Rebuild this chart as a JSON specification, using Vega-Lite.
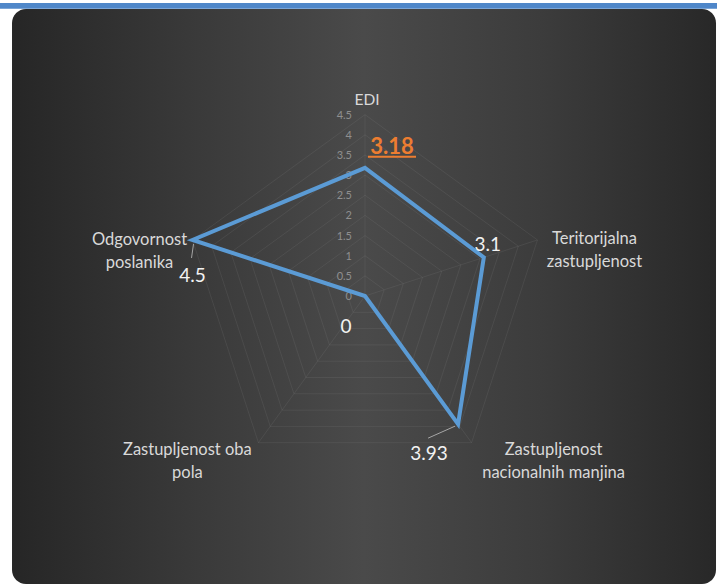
{
  "$schema": "https://vega.github.io/schema/vega-lite/v6.json",
  "width": 717,
  "height": 587,
  "autosize": {"type": "none"},
  "padding": 0,
  "background": "#ffffff",
  "config": {"view": {"stroke": null}, "text": {"font": "Lato"}},
  "datasets": {
    "radar": [
      {"k": 0, "name": "EDI", "value": 3.18},
      {"k": 1, "name": "Teritorijalna\nzastupljenost", "value": 3.1},
      {"k": 2, "name": "Zastupljenost\nnacionalnih manjina", "value": 3.93},
      {"k": 3, "name": "Zastupljenost oba\npola", "value": 0},
      {"k": 4, "name": "Odgovornost\nposlanika", "value": 4.5}
    ],
    "grid": [
      {"level": 0.5, "k": [0, 1, 2, 3, 4]},
      {"level": 1, "k": [0, 1, 2, 3, 4]},
      {"level": 1.5, "k": [0, 1, 2, 3, 4]},
      {"level": 2, "k": [0, 1, 2, 3, 4]},
      {"level": 2.5, "k": [0, 1, 2, 3, 4]},
      {"level": 3, "k": [0, 1, 2, 3, 4]},
      {"level": 3.5, "k": [0, 1, 2, 3, 4]},
      {"level": 4, "k": [0, 1, 2, 3, 4]},
      {"level": 4.5, "k": [0, 1, 2, 3, 4]}
    ],
    "tickvals": [
      {"t": 0}, {"t": 0.5}, {"t": 1}, {"t": 1.5}, {"t": 2},
      {"t": 2.5}, {"t": 3}, {"t": 3.5}, {"t": 4}, {"t": 4.5}
    ],
    "frame": [{"id": 1}]
  },
  "layer": [
    {
      "data": {"name": "frame"},
      "mark": {
        "type": "rect",
        "cornerRadius": 14,
        "fill": {
          "gradient": "linear", "x1": 0, "y1": 0.5, "x2": 1, "y2": 0.5,
          "stops": [
            {"offset": 0, "color": "#262626"},
            {"offset": 0.25, "color": "#393939"},
            {"offset": 0.5, "color": "#4a4a4a"},
            {"offset": 0.75, "color": "#3c3c3c"},
            {"offset": 1, "color": "#282828"}
          ]
        }
      },
      "encoding": {
        "x": {"datum": -8.759, "type": "quantitative", "scale": {"domain": [-9.0571, 8.7345], "nice": false, "zero": false}, "axis": null},
        "x2": {"datum": 8.71},
        "y": {"datum": 7.122, "type": "quantitative", "scale": {"domain": [-7.2208, 7.3449], "nice": false, "zero": false}, "axis": null},
        "y2": {"datum": -7.146}
      }
    },
    {
      "data": {"name": "frame"},
      "mark": {"type": "rect", "fill": "#4F87C9"},
      "encoding": {
        "x": {"datum": -9.3, "type": "quantitative", "scale": {"domain": [-9.0571, 8.7345], "nice": false, "zero": false}, "axis": null},
        "x2": {"datum": 9.0},
        "y": {"datum": 7.27, "type": "quantitative", "scale": {"domain": [-7.2208, 7.3449], "nice": false, "zero": false}, "axis": null},
        "y2": {"datum": 7.13}
      }
    },
    {
      "data": {"name": "grid"},
      "transform": [
        {"flatten": ["k"]},
        {"calculate": "datum.k * 2 * PI / 5", "as": "a"},
        {"calculate": "datum.level * sin(datum.a)", "as": "px"},
        {"calculate": "datum.level * cos(datum.a)", "as": "py"}
      ],
      "mark": {"type": "line", "interpolate": "linear-closed", "stroke": "#8a8a8a", "strokeOpacity": 0.17, "strokeWidth": 1},
      "encoding": {
        "x": {"field": "px", "type": "quantitative", "scale": {"domain": [-9.0571, 8.7345], "nice": false, "zero": false}, "axis": null},
        "y": {"field": "py", "type": "quantitative", "scale": {"domain": [-7.2208, 7.3449], "nice": false, "zero": false}, "axis": null},
        "detail": {"field": "level", "type": "nominal"},
        "order": {"field": "k", "type": "quantitative"}
      }
    },
    {
      "data": {"name": "tickvals"},
      "mark": {"type": "text", "align": "right", "baseline": "middle", "dx": -13, "dy": 1, "fontSize": 11, "color": "#8f8f8f"},
      "encoding": {
        "x": {"datum": 0, "type": "quantitative", "scale": {"domain": [-9.0571, 8.7345], "nice": false, "zero": false}, "axis": null},
        "y": {"field": "t", "type": "quantitative", "scale": {"domain": [-7.2208, 7.3449], "nice": false, "zero": false}, "axis": null},
        "text": {"field": "t", "type": "nominal"}
      }
    },
    {
      "data": {"name": "radar"},
      "transform": [
        {"calculate": "datum.k * 2 * PI / 5", "as": "a"},
        {"calculate": "datum.value * sin(datum.a)", "as": "px"},
        {"calculate": "datum.value * cos(datum.a)", "as": "py"},
        {"calculate": "4.5 * sin(datum.a)", "as": "ex"},
        {"calculate": "4.5 * cos(datum.a)", "as": "ey"}
      ],
      "encoding": {
        "x": {"field": "px", "type": "quantitative", "scale": {"domain": [-9.0571, 8.7345], "nice": false, "zero": false}, "axis": null},
        "y": {"field": "py", "type": "quantitative", "scale": {"domain": [-7.2208, 7.3449], "nice": false, "zero": false}, "axis": null}
      },
      "layer": [
        {
          "mark": {"type": "rule", "stroke": "#8a8a8a", "strokeOpacity": 0.17, "strokeWidth": 1},
          "encoding": {
            "x": {"datum": 0, "type": "quantitative", "scale": {"domain": [-9.0571, 8.7345], "nice": false, "zero": false}, "axis": null},
            "y": {"datum": 0, "type": "quantitative", "scale": {"domain": [-7.2208, 7.3449], "nice": false, "zero": false}, "axis": null},
            "x2": {"field": "ex"},
            "y2": {"field": "ey"}
          }
        },
        {
          "mark": {"type": "line", "interpolate": "linear-closed", "stroke": "#5B9BD5", "strokeWidth": 4, "strokeJoin": "miter"},
          "encoding": {"order": {"field": "k", "type": "quantitative"}}
        },
        {
          "transform": [{"filter": "datum.k == 2"}],
          "mark": {"type": "rule", "stroke": "#a6a6a6", "strokeWidth": 1, "xOffset": -3, "yOffset": 2, "x2Offset": -30, "y2Offset": 14},
          "encoding": {"x2": {"field": "px"}, "y2": {"field": "py"}}
        },
        {
          "transform": [{"filter": "datum.k == 4"}],
          "mark": {"type": "rule", "stroke": "#a6a6a6", "strokeWidth": 1, "xOffset": 1, "yOffset": 4, "x2Offset": -1, "y2Offset": 18},
          "encoding": {"x2": {"field": "px"}, "y2": {"field": "py"}}
        },
        {
          "transform": [{"filter": "datum.k == 0"}],
          "mark": {"type": "text", "align": "center", "baseline": "middle", "dx": 27, "dy": -21, "fontSize": 22, "fontWeight": "bold", "color": "#ED7D31"},
          "encoding": {"text": {"field": "value", "type": "nominal"}}
        },
        {
          "transform": [{"filter": "datum.k == 0"}],
          "mark": {"type": "rule", "stroke": "#ED7D31", "strokeWidth": 2, "xOffset": 3, "yOffset": -11, "x2Offset": 51, "y2Offset": -11},
          "encoding": {"x2": {"field": "px"}, "y2": {"field": "py"}}
        },
        {
          "transform": [{"filter": "datum.k == 1"}],
          "mark": {"type": "text", "align": "center", "baseline": "middle", "dx": 4, "dy": -12, "fontSize": 19, "color": "#f2f2f2"},
          "encoding": {"text": {"field": "value", "type": "nominal"}}
        },
        {
          "transform": [{"filter": "datum.k == 2"}],
          "mark": {"type": "text", "align": "center", "baseline": "middle", "dx": -29, "dy": 30, "fontSize": 19, "color": "#f2f2f2"},
          "encoding": {"text": {"field": "value", "type": "nominal"}}
        },
        {
          "transform": [{"filter": "datum.k == 3"}],
          "mark": {"type": "text", "align": "center", "baseline": "middle", "dx": -19, "dy": 31, "fontSize": 19, "color": "#f2f2f2"},
          "encoding": {"text": {"field": "value", "type": "nominal"}}
        },
        {
          "transform": [{"filter": "datum.k == 4"}],
          "mark": {"type": "text", "align": "center", "baseline": "middle", "dx": 0, "dy": 36, "fontSize": 19, "color": "#f2f2f2"},
          "encoding": {"text": {"field": "value", "type": "nominal"}}
        },
        {
          "transform": [{"filter": "datum.k == 0"}],
          "mark": {"type": "text", "align": "center", "baseline": "middle", "dx": 2, "dy": -15, "fontSize": 15.5, "color": "#d9d9d9", "lineBreak": "\n", "lineHeight": 23},
          "encoding": {
            "x": {"field": "ex", "type": "quantitative", "scale": {"domain": [-9.0571, 8.7345], "nice": false, "zero": false}, "axis": null},
            "y": {"field": "ey", "type": "quantitative", "scale": {"domain": [-7.2208, 7.3449], "nice": false, "zero": false}, "axis": null},
            "text": {"field": "name", "type": "nominal"}
          }
        },
        {
          "transform": [{"filter": "datum.k == 1"}],
          "mark": {"type": "text", "align": "center", "baseline": "middle", "dx": 57, "dy": -1, "fontSize": 16.5, "color": "#d9d9d9", "lineBreak": "\n", "lineHeight": 23},
          "encoding": {
            "x": {"field": "ex", "type": "quantitative", "scale": {"domain": [-9.0571, 8.7345], "nice": false, "zero": false}, "axis": null},
            "y": {"field": "ey", "type": "quantitative", "scale": {"domain": [-7.2208, 7.3449], "nice": false, "zero": false}, "axis": null},
            "text": {"field": "name", "type": "nominal"}
          }
        },
        {
          "transform": [{"filter": "datum.k == 2"}],
          "mark": {"type": "text", "align": "center", "baseline": "middle", "dx": 82, "dy": 7, "fontSize": 16.5, "color": "#d9d9d9", "lineBreak": "\n", "lineHeight": 23},
          "encoding": {
            "x": {"field": "ex", "type": "quantitative", "scale": {"domain": [-9.0571, 8.7345], "nice": false, "zero": false}, "axis": null},
            "y": {"field": "ey", "type": "quantitative", "scale": {"domain": [-7.2208, 7.3449], "nice": false, "zero": false}, "axis": null},
            "text": {"field": "name", "type": "nominal"}
          }
        },
        {
          "transform": [{"filter": "datum.k == 3"}],
          "mark": {"type": "text", "align": "center", "baseline": "middle", "dx": -71, "dy": 7, "fontSize": 16.5, "color": "#d9d9d9", "lineBreak": "\n", "lineHeight": 23},
          "encoding": {
            "x": {"field": "ex", "type": "quantitative", "scale": {"domain": [-9.0571, 8.7345], "nice": false, "zero": false}, "axis": null},
            "y": {"field": "ey", "type": "quantitative", "scale": {"domain": [-7.2208, 7.3449], "nice": false, "zero": false}, "axis": null},
            "text": {"field": "name", "type": "nominal"}
          }
        },
        {
          "transform": [{"filter": "datum.k == 4"}],
          "mark": {"type": "text", "align": "center", "baseline": "middle", "dx": -53, "dy": 0, "fontSize": 16.5, "color": "#d9d9d9", "lineBreak": "\n", "lineHeight": 23},
          "encoding": {
            "x": {"field": "ex", "type": "quantitative", "scale": {"domain": [-9.0571, 8.7345], "nice": false, "zero": false}, "axis": null},
            "y": {"field": "ey", "type": "quantitative", "scale": {"domain": [-7.2208, 7.3449], "nice": false, "zero": false}, "axis": null},
            "text": {"field": "name", "type": "nominal"}
          }
        }
      ]
    }
  ]
}
